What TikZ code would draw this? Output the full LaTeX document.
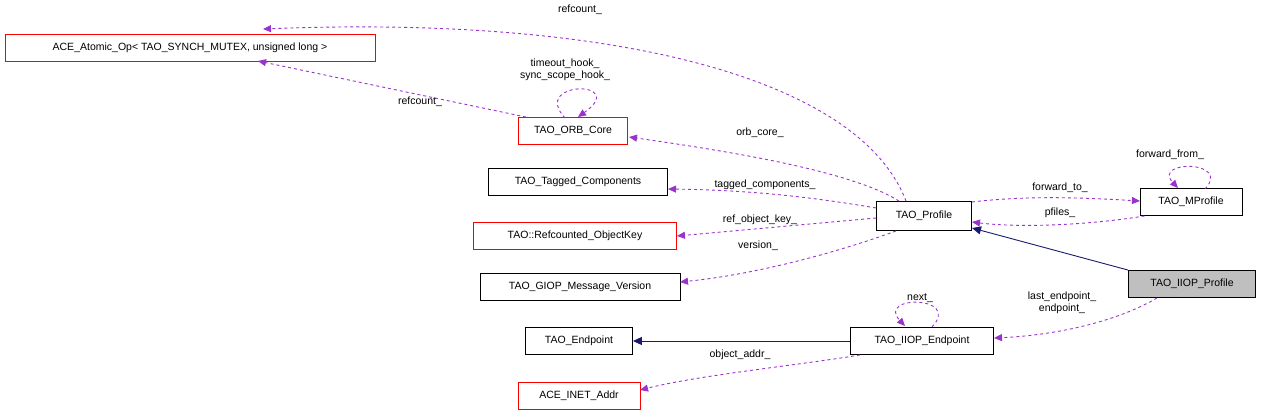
\documentclass[tikz,border=0pt]{standalone}
\usepackage{fontspec}
\setmainfont{Liberation Sans}
\usetikzlibrary{arrows.meta}
\begin{document}
\begin{tikzpicture}[x=1pt,y=-1pt,font=\fontsize{10.5}{12}\selectfont,line width=0.9pt,
 box/.style={draw=black,rectangle,minimum height=27pt,inner xsep=5pt,fill=white},
 rbox/.style={box,draw=red},
 use/.style={dashed,-{Triangle[length=8pt,width=7pt]},color={rgb,255:red,154;green,50;blue,205}},
 inh/.style={draw={rgb,255:red,25;green,25;blue,112},-{Triangle[length=9pt,width=8pt]}},
 lab/.style={align=center,inner sep=1pt}]
\useasboundingbox (0,0) rectangle (1261,416);
\node[rbox,minimum width=370pt] (atom) at (190,48) {ACE\_Atomic\_Op< TAO\_SYNCH\_MUTEX, unsigned long >};
\node[rbox,minimum width=109pt] (orb) at (573,131) {TAO\_ORB\_Core};
\node[box,minimum width=179pt] (tag) at (578,182) {TAO\_Tagged\_Components};
\node[rbox,minimum width=203pt] (key) at (575,236) {TAO::Refcounted\_ObjectKey};
\node[box,minimum width=200pt] (giop) at (580,287) {TAO\_GIOP\_Message\_Version};
\node[box,minimum width=107pt] (ep) at (579,341) {TAO\_Endpoint};
\node[rbox,minimum width=122pt] (inet) at (579,396) {ACE\_INET\_Addr};
\node[box,minimum width=95pt,minimum height=29pt] (prof) at (924,216) {TAO\_Profile};
\node[box,minimum width=102pt] (mprof) at (1191,202) {TAO\_MProfile};
\node[box,minimum width=127pt,fill=black!25] (iprof) at (1192,284) {TAO\_IIOP\_Profile};
\node[box,minimum width=143pt] (iep) at (922,341) {TAO\_IIOP\_Endpoint};

\draw[use] (prof.north) ++(-18,0) .. controls (860,80) and (620,15) .. (263,29);
\node[lab] at (580,10) {refcount\_};
\draw[use] (orb.north west) ++(8,0) -- (258,61);
\node[lab] at (420,102) {refcount\_};
\draw[use] (565,118) .. controls (530,80) and (630,80) .. (578,117);
\node[lab] at (565,70) {timeout\_hook\_\\sync\_scope\_hook\_};
\draw[use] (prof.north) ++(-25,0) .. controls (850,170) and (720,150) .. (629,137);
\node[lab] at (760,133) {orb\_core\_};
\draw[use] (prof.west) ++(0,-8) .. controls (800,195) and (740,190) .. (668,189);
\node[lab] at (765,185) {tagged\_components\_};
\draw[use] (prof.west) ++(0,2) -- (677,236);
\node[lab] at (760,220) {ref\_object\_key\_};
\draw[use] (prof.south west) ++(20,0) .. controls (830,255) and (750,275) .. (680,282);
\node[lab] at (758,246) {version\_};
\draw[use] (prof.east) ++(0,-14) .. controls (1030,195) and (1090,198) .. (1140,201);
\node[lab] at (1060,188) {forward\_to\_};
\draw[use] (mprof.south west) ++(5,0) .. controls (1090,225) and (1020,228) .. (972,222);
\node[lab] at (1060,213) {pfiles\_};
\draw[use] (1205,189) .. controls (1232,160) and (1152,160) .. (1178,188);
\node[lab] at (1170,155) {forward\_from\_};
\draw[inh] (iprof.north west) -- (972,228);
\draw[use] (iprof.south) ++(-35,0) .. controls (1120,320) and (1060,335) .. (994,338);
\node[lab] at (1062,303) {last\_endpoint\_\\endpoint\_};
\draw[use] (932,327) .. controls (962,295) and (876,295) .. (905,326);
\node[lab] at (920,298) {next\_};
\draw[inh] (iep.west) -- (ep.east);
\draw[use] (iep.south west) ++(10,0) .. controls (800,365) and (700,375) .. (640,390);
\node[lab] at (740,355) {object\_addr\_};
\end{tikzpicture}
\end{document}
